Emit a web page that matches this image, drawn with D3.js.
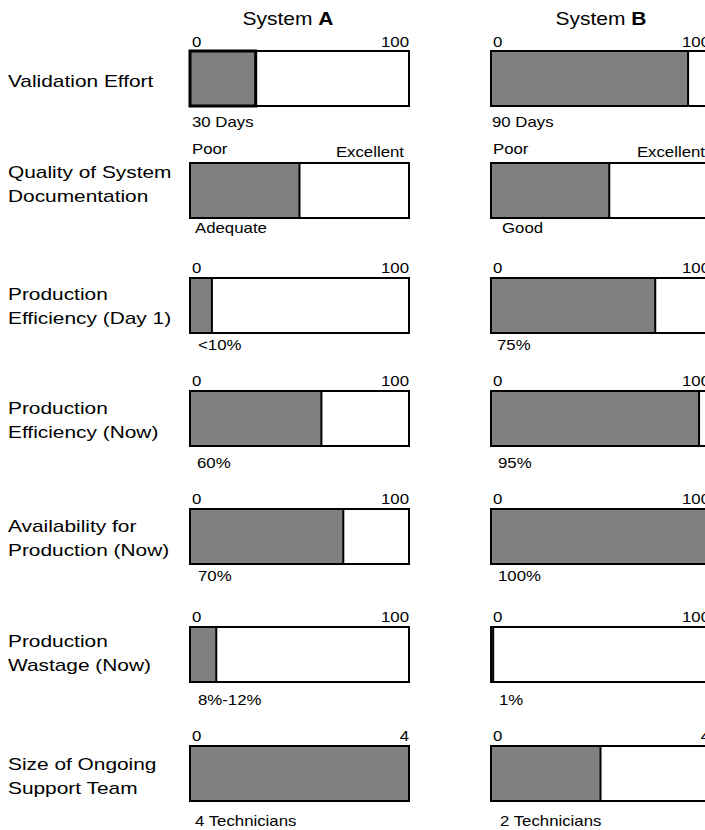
<!DOCTYPE html>
<html>
<head>
<meta charset="utf-8">
<script src="https://cdn.jsdelivr.net/npm/d3@7"></script>
<style>
  body { margin: 0; background: #fff; }
  svg { display: block; font-family: "Liberation Sans", Arial, Helvetica, sans-serif; }
</style>
</head>
<body>
<svg id="chart" width="705" height="830"></svg>
<script>
// ---- data ----
const metrics = [
  ["Validation Effort"],
  ["Quality of System", "Documentation"],
  ["Production", "Efficiency (Day 1)"],
  ["Production", "Efficiency (Now)"],
  ["Availability for", "Production (Now)"],
  ["Production", "Wastage (Now)"],
  ["Size of Ongoing", "Support Team"]
];
const systems = ["A", "B"];
const scaleMax = [100, 100, 100, 100, 100, 100, 4];
const scaleLow = ["0", "Poor", "0", "0", "0", "0", "0"];
const scaleHigh = ["100", "Excellent", "100", "100", "100", "100", "4"];
const valuesA = [30, 50, 10, 60, 70, 12, 4];
const valuesB = [90, 54, 75, 95, 100, 1, 2];
const labelsA = ["30 Days", "Adequate", "<10%", "60%", "70%", "8%-12%", "4 Technicians"];
const labelsB = ["90 Days", "Good", "75%", "95%", "100%", "1%", "2 Technicians"];

// ---- layout ----
const barW = 219, barH = 55;
const rowIdx = d3.range(metrics.length);
const rowTop = d3.scaleOrdinal().domain(rowIdx).range([51, 163, 278, 391, 509, 627, 746]);
const panelX = d3.scaleOrdinal().domain(systems).range([190, 491]);
const titleX = d3.scaleOrdinal().domain(systems).range([288, 601]);
const rowLabelDy = [2, -7, 0, 1, 1, -2, 2];
const valueDy = [21, 15, 17, 22, 17, 23, 25];
const valueDx = { A: [2, 5, 8, 7, 8, 8, 5], B: [1, 11, 6, 7, 7, 8, 9] };
const tickDy = [4, 6, 5, 5, 5, 5, 5];
const stretch = 1.2;          // glyphs are drawn slightly wide

const svg = d3.select("#chart");

// text helper: horizontally widened glyphs anchored at (x, y)
function label(parent, x, y, txt, size, anchor) {
  const g = parent.append("g").attr("transform", `translate(${x},${y}) scale(${stretch},1)`);
  const t = g.append("text")
    .attr("font-size", size)
    .attr("fill", "#000")
    .attr("text-anchor", anchor || "start");
  if (txt != null) t.text(txt);
  return t;
}

// column titles
systems.forEach(s => {
  const t = label(svg, titleX(s), 25, null, 17.5, "middle");
  t.append("tspan").text("System ");
  t.append("tspan").attr("font-weight", "bold").text(s);
});

// row labels
rowIdx.forEach(i => {
  const mid = rowTop(i) + barH / 2 + rowLabelDy[i];
  const lines = metrics[i];
  lines.forEach((ln, k) => {
    const y = lines.length === 1 ? mid + 6 : mid - 6 + k * 24;
    label(svg, 8, y, ln, 17.4, "start");
  });
});

// bars
const values = { A: valuesA, B: valuesB };
const labels = { A: labelsA, B: labelsB };

systems.forEach(s => {
  rowIdx.forEach(i => {
    const x0 = panelX(s), y0 = rowTop(i);
    const x = d3.scaleLinear().domain([0, scaleMax[i]]).range([x0, x0 + barW]);
    const g = svg.append("g");

    // scale end labels
    const lowY = y0 - tickDy[i] - (i === 1 ? 3 : 0);
    label(g, x(0) + 2, lowY, scaleLow[i], 14, "start");
    label(g, x(scaleMax[i]) - (i === 1 ? 5 : 0), y0 - tickDy[i], scaleHigh[i], 14, "end");

    // outline
    g.append("rect")
      .attr("x", x(0)).attr("y", y0)
      .attr("width", x(scaleMax[i]) - x(0)).attr("height", barH)
      .attr("fill", "#fff").attr("stroke", "#000").attr("stroke-width", 2);

    // value fill
    const v = values[s][i];
    g.append("rect")
      .attr("x", x(0)).attr("y", y0)
      .attr("width", x(v) - x(0)).attr("height", barH)
      .attr("fill", "#808080").attr("stroke", "#000")
      .attr("stroke-width", s === "A" && i === 0 ? 3 : 2);

    // value caption
    label(g, x(0) + valueDx[s][i], y0 + barH + valueDy[i], labels[s][i], 14, "start");
  });
});
</script>
</body>
</html>
